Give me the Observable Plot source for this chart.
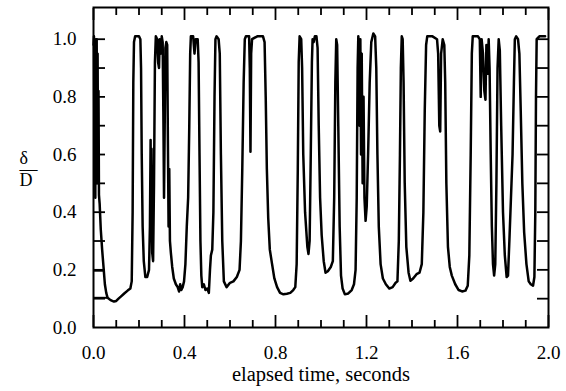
<!DOCTYPE html>
<html><head><meta charset="utf-8">
<script src="https://cdn.jsdelivr.net/npm/d3@7"></script>
<script src="https://cdn.jsdelivr.net/npm/@observablehq/plot@0.6"></script>
<style>
body{margin:0;background:#fff}
svg, svg text { font-family: "Liberation Serif", "DejaVu Serif", serif !important; }
</style>
</head><body><div id="chart"></div>
<script>
const time = [
0.000,0.002,0.004,0.006,0.008,0.010,0.012,0.014,0.016,0.018,0.020,0.022,0.024,0.027,0.032,0.038,0.044,0.050,0.056,0.062,
0.075,0.090,0.100,0.110,0.120,0.135,0.150,0.162,0.168,0.172,0.175,0.178,0.183,0.200,0.206,0.209,0.212,0.216,0.221,0.228,
0.236,0.244,0.248,0.251,0.253,0.255,0.258,0.262,0.266,0.270,0.274,0.280,0.284,0.288,0.291,0.296,0.300,0.304,0.307,0.310,
0.313,0.316,0.320,0.324,0.327,0.330,0.333,0.336,0.340,0.346,0.353,0.362,0.370,0.376,0.381,0.386,0.392,0.398,0.404,0.410,
0.416,0.421,0.425,0.428,0.438,0.444,0.449,0.458,0.462,0.466,0.470,0.474,0.478,0.485,0.492,0.500,0.507,0.512,0.516,0.522,
0.527,0.532,0.536,0.541,0.550,0.555,0.560,0.566,0.573,0.585,0.600,0.615,0.630,0.642,0.648,0.654,0.660,0.665,0.670,0.684,
0.687,0.690,0.693,0.697,0.720,0.745,0.752,0.757,0.762,0.768,0.775,0.785,0.795,0.807,0.820,0.835,0.850,0.865,0.878,0.887,
0.893,0.898,0.902,0.906,0.913,0.917,0.922,0.930,0.940,0.945,0.950,0.955,0.960,0.963,0.968,0.973,0.980,0.985,0.990,0.996,
1.003,1.012,1.020,1.030,1.043,1.052,1.058,1.063,1.067,1.071,1.076,1.082,1.088,1.095,1.105,1.120,1.135,1.145,1.152,1.157,
1.161,1.164,1.167,1.170,1.173,1.176,1.179,1.183,1.187,1.191,1.196,1.201,1.207,1.214,1.221,1.230,1.238,1.243,1.248,1.254,
1.262,1.272,1.285,1.300,1.315,1.328,1.336,1.342,1.347,1.351,1.355,1.359,1.363,1.368,1.375,1.385,1.393,1.405,1.420,1.433,
1.443,1.450,1.456,1.462,1.467,1.490,1.510,1.515,1.520,1.524,1.528,1.535,1.542,1.546,1.551,1.558,1.566,1.575,1.590,1.605,
1.620,1.635,1.645,1.652,1.658,1.663,1.667,1.690,1.698,1.702,1.706,1.712,1.718,1.723,1.727,1.732,1.737,1.741,1.746,1.751,
1.756,1.761,1.766,1.771,1.776,1.781,1.786,1.792,1.800,1.808,1.816,1.822,1.828,1.835,1.842,1.848,1.852,1.858,1.866,1.872,
1.878,1.885,1.893,1.903,1.913,1.922,1.932,1.938,1.942,1.945,1.948,1.960,1.985
];
const ratio = [
0.98,1.01,0.62,1.00,0.45,0.98,0.70,1.00,0.50,0.95,0.55,0.82,0.46,0.43,0.34,0.27,0.21,0.15,0.12,0.103,
0.095,0.090,0.092,0.100,0.107,0.118,0.128,0.135,0.160,0.40,0.85,0.99,1.01,1.01,1.00,0.90,0.60,0.35,0.23,0.175,
0.175,0.20,0.35,0.65,0.30,0.62,0.26,0.23,0.50,0.92,1.01,1.00,0.92,0.90,1.00,0.95,1.01,0.99,0.75,0.45,
0.70,0.97,0.99,0.98,0.65,0.35,0.55,0.30,0.26,0.21,0.17,0.15,0.14,0.125,0.15,0.13,0.14,0.16,0.22,0.35,
0.45,0.70,0.95,1.01,1.01,0.95,1.00,1.00,0.92,0.60,0.30,0.18,0.14,0.15,0.13,0.135,0.12,0.20,0.25,0.27,
0.40,0.80,1.00,1.01,1.00,0.95,0.60,0.30,0.16,0.14,0.155,0.16,0.175,0.20,0.30,0.55,0.85,1.00,1.01,1.01,
0.90,0.61,0.95,1.00,1.01,1.01,0.99,0.80,0.55,0.38,0.27,0.22,0.17,0.14,0.12,0.115,0.117,0.12,0.13,0.14,
0.22,0.55,0.92,1.01,1.00,0.90,0.60,0.40,0.28,0.255,0.30,0.60,0.92,1.00,0.99,1.01,1.01,0.97,0.70,0.45,
0.32,0.23,0.19,0.195,0.21,0.23,0.45,0.85,1.00,0.98,0.70,0.35,0.18,0.135,0.115,0.118,0.13,0.15,0.20,0.45,
0.90,1.01,0.98,0.70,1.00,0.60,0.95,0.50,0.80,0.45,0.37,0.42,0.60,0.85,0.99,1.02,1.01,0.90,0.60,0.35,
0.22,0.17,0.15,0.135,0.14,0.155,0.16,0.30,0.60,0.90,1.01,1.00,0.85,0.50,0.28,0.19,0.162,0.17,0.185,0.19,
0.22,0.40,0.75,0.98,1.01,1.01,1.00,0.95,0.70,0.68,0.95,1.00,0.98,0.85,0.50,0.28,0.21,0.18,0.15,0.13,
0.125,0.128,0.145,0.25,0.60,0.95,1.01,1.01,1.00,0.80,1.00,0.95,0.82,0.79,0.98,0.88,1.00,0.90,0.60,0.35,
0.22,0.18,0.22,0.50,0.90,1.00,0.96,0.70,0.40,0.25,0.175,0.18,0.30,0.45,0.60,0.85,1.00,1.01,1.00,0.95,
0.75,0.50,0.33,0.22,0.16,0.15,0.145,0.175,0.40,0.80,1.00,1.01,1.01
];
const startLevels = [0.197, 0.103];
const startEnds = [0.045, 0.062];
const xMajorTicks = [0, 0.4, 0.8, 1.2, 1.6, 2.0];
const xMinorTicks = [0.1,0.2,0.3,0.5,0.6,0.7,0.9,1.0,1.1,1.3,1.4,1.5,1.7,1.8,1.9];
const yTicks = [0.1,0.2,0.3,0.4,0.5,0.6,0.7,0.8,0.9,1.0];
const yLabelTicks = [0.0,0.2,0.4,0.6,0.8,1.0];
const xTitle = "elapsed time, seconds";
const yTitleLines = ["δ", "—", "D"];

const trace = time.map((t, i) => ({t, v: ratio[i]}));
const starts = startLevels.map((v, i) => ({v, end: startEnds[i]}));
const fmt = d3.format(".1f");
const serif = "Liberation Serif";

const chart = Plot.plot({
  width: 566, height: 391,
  marginLeft: 93, marginRight: 18, marginTop: 7, marginBottom: 64,
  x: {domain: [0, 2.0]},
  y: {domain: [0, 1.11]},
  style: "font-family: 'Liberation Serif', serif; font-size: 19px; color: #000; background: #fff;",
  marks: [
    Plot.line(trace, {x: "t", y: "v", stroke: "#000", strokeWidth: 2.5, strokeLinejoin: "round"}),
    Plot.ruleY(starts, {y: "v", x1: 0, x2: "end", stroke: "#000", strokeWidth: 2}),
    Plot.axisX(xMajorTicks, {anchor: "bottom", tickSize: -12, fill: "none", strokeWidth: 1.8, label: null}),
    Plot.axisX(xMinorTicks, {anchor: "bottom", tickSize: -7, fill: "none", strokeWidth: 1.8, label: null}),
    Plot.axisX(xMajorTicks, {anchor: "top", tickSize: -12, fill: "none", strokeWidth: 1.8, label: null}),
    Plot.axisX(xMinorTicks, {anchor: "top", tickSize: -7, fill: "none", strokeWidth: 1.8, label: null}),
    Plot.axisX(xMajorTicks, {anchor: "bottom", tickSize: 0, tickPadding: 18, tickFormat: fmt, label: null, fontFamily: serif, fontSize: 19}),
    Plot.axisY(yTicks, {anchor: "left", tickSize: -12, fill: "none", strokeWidth: 1.8, label: null}),
    Plot.axisY(yTicks, {anchor: "right", tickSize: -12, fill: "none", strokeWidth: 1.8, label: null}),
    Plot.axisY(yLabelTicks, {anchor: "left", tickSize: 0, tickPadding: 17, tickFormat: fmt, label: null, fontFamily: serif, fontSize: 19}),
    Plot.frame({stroke: "#000", strokeWidth: 2}),
    Plot.text([xTitle], {frameAnchor: "bottom", dy: 53, fill: "#000", fontFamily: serif, fontSize: 20.5}),
    Plot.text([yTitleLines.join("\n")], {frameAnchor: "left", dx: -74, dy: 4, lineHeight: 0.62, fill: "#000", fontFamily: serif, fontSize: 18})
  ]
});
document.getElementById("chart").appendChild(chart);
</script>
</body></html>
